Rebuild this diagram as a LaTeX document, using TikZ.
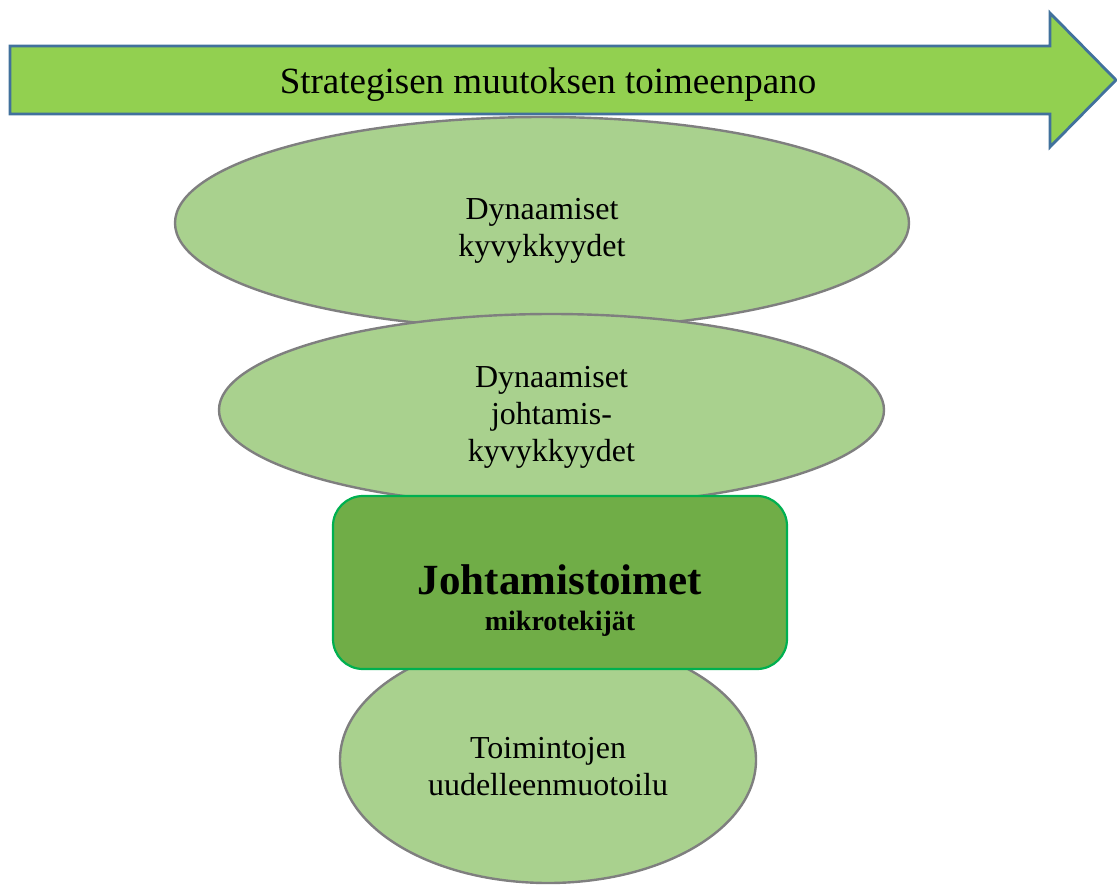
\documentclass[tikz,border=0pt]{standalone}
\usepackage{fontspec}
\setmainfont{Liberation Serif}
\usetikzlibrary{shapes.geometric}
\definecolor{arrowfill}{HTML}{92D050}
\definecolor{arrowline}{HTML}{41719C}
\definecolor{ellfill}{HTML}{A9D18E}
\definecolor{ellline}{HTML}{7F7F7F}
\definecolor{boxfill}{HTML}{70AD47}
\definecolor{boxline}{HTML}{00B050}
\tikzset{
  oval/.style={ellipse, draw=ellline, fill=ellfill, line width=2.4pt, inner sep=0pt},
  ovaltext/.style={align=center, font=\fontsize{32}{37}\selectfont},
  keybox/.style={draw=boxline, fill=boxfill, line width=2.2pt, rounded corners=30pt, inner sep=0pt, align=center},
  bigarrow/.style={draw=arrowline, fill=arrowfill, line width=2.8pt, line join=miter}
}
\begin{document}
\begin{tikzpicture}[x=1pt,y=-1pt]
\useasboundingbox (0,0) rectangle (1117,884);
% arrow
\draw[bigarrow] (10,46) -- (1050,46) -- (1050,13) -- (1116,80) -- (1050,147) -- (1050,114) -- (10,114) -- cycle;
\node[font=\fontsize{37}{42}\selectfont] (title) at (548,85) {Strategisen muutoksen toimeenpano};
% ellipses
\node[oval, minimum width=734pt, minimum height=212pt] (dyn) at (542,223) {};
\node[ovaltext] (dyntext) at (542,231) {Dynaamiset\\kyvykkyydet};
\node[oval, minimum width=665pt, minimum height=192pt] (dynj) at (551.5,410) {};
\node[ovaltext] (dynjtext) at (551.5,417) {Dynaamiset\\johtamis-\\kyvykkyydet};
\node[oval, minimum width=416pt, minimum height=246pt] (toim) at (548,760) {};
\node[keybox, minimum width=454pt, minimum height=173pt] (joht) at (560,582.5) {};
\node[font=\fontsize{43}{46}\selectfont\bfseries] (jt) at (560,580) {Johtamistoimet};
\node[font=\fontsize{28}{30}\selectfont\bfseries] (mk) at (560,624) {mikrotekijät};
\node[ovaltext] (toimt) at (548,767) {Toimintojen\\uudelleenmuotoilu};
\end{tikzpicture}
\end{document}
